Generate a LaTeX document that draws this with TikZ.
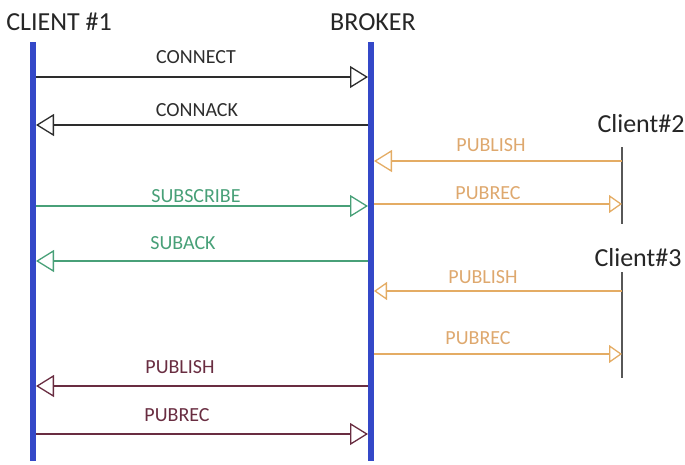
\documentclass[tikz,border=0pt]{standalone}
\usepackage{fontspec}
\setmainfont{Carlito}
\usetikzlibrary{arrows.meta}
\definecolor{lifeblue}{RGB}{52,72,200}
\definecolor{msgblack}{RGB}{45,45,45}
\definecolor{msgorange}{RGB}{228,172,100}
\definecolor{txtorange}{RGB}{222,168,110}
\definecolor{msggreen}{RGB}{72,160,120}
\definecolor{msgmaroon}{RGB}{105,45,65}
\tikzset{
  lifeline/.style={draw=lifeblue, line width=6.5pt},
  thinline/.style={draw=msgblack!80, line width=1.3pt},
  header/.style={font=\fontsize{26}{28}\selectfont, text=black!85, inner sep=0pt},
  msglabel/.style={font=\fontsize{20}{22}\selectfont, inner sep=0pt},
  bigmsg/.style={line width=1.3pt, -{Triangle[open, length=18pt, width=22pt, line width=1.3pt]}},
  smallmsg/.style={line width=1.3pt, -{Triangle[open, length=13pt, width=18pt, line width=1.3pt]}},
}
\begin{document}
\begin{tikzpicture}[x=1pt, y=-1pt]
\useasboundingbox (0,0) rectangle (685,464);
% headers
\node[header] (h1) at (59,22) {CLIENT \#1};
\node[header] (hb) at (373,22) {BROKER};
\node[header] (h2) at (641,124) {Client\#2};
\node[header] (h3) at (638,258) {Client\#3};
% lifelines
\coordinate (c1top) at (33,42); \coordinate (c1bot) at (33,461);
\coordinate (brtop) at (371,42); \coordinate (brbot) at (371,461);
\coordinate (c2top) at (622,147); \coordinate (c2bot) at (622,224);
\coordinate (c3top) at (622,272); \coordinate (c3bot) at (622,378);
\draw[lifeline] (c1top) -- (c1bot);
\draw[lifeline] (brtop) -- (brbot);
\draw[thinline] (c2top) -- (c2bot);
\draw[thinline] (c3top) -- (c3bot);
% message end points
\coordinate (a1) at (36,77);  \coordinate (b1) at (368,77);
\coordinate (a2) at (368,125); \coordinate (b2) at (36,125);
\coordinate (a3) at (622,161); \coordinate (b3) at (374,161);
\coordinate (a4) at (36,206); \coordinate (b4) at (368,206);
\coordinate (a5) at (374,204); \coordinate (b5) at (622,204);
\coordinate (a6) at (368,261); \coordinate (b6) at (36,261);
\coordinate (a7) at (622,291); \coordinate (b7) at (374,291);
\coordinate (a8) at (374,354); \coordinate (b8) at (622,354);
\coordinate (a9) at (368,386); \coordinate (b9) at (36,386);
\coordinate (a10) at (36,434); \coordinate (b10) at (368,434);
% messages
\draw[bigmsg, msgblack] (a1) -- (b1);
\node[msglabel, text=msgblack] (l1) at (196,57) {CONNECT};
\draw[bigmsg, msgblack] (a2) -- (b2);
\node[msglabel, text=msgblack] (l2) at (197,110) {CONNACK};
\draw[bigmsg, msgorange] (a3) -- (b3);
\node[msglabel, text=txtorange] (l3) at (491,145) {PUBLISH};
\draw[bigmsg, msggreen] (a4) -- (b4);
\node[msglabel, text=msggreen] (l4) at (196,196) {SUBSCRIBE};
\draw[smallmsg, msgorange] (a5) -- (b5);
\node[msglabel, text=txtorange] (l5) at (488,193) {PUBREC};
\draw[bigmsg, msggreen] (a6) -- (b6);
\node[msglabel, text=msggreen] (l6) at (183,243) {SUBACK};
\draw[smallmsg, msgorange] (a7) -- (b7);
\node[msglabel, text=txtorange] (l7) at (483,277) {PUBLISH};
\draw[smallmsg, msgorange] (a8) -- (b8);
\node[msglabel, text=txtorange] (l8) at (478,338) {PUBREC};
\draw[bigmsg, msgmaroon] (a9) -- (b9);
\node[msglabel, text=msgmaroon] (l9) at (180,367) {PUBLISH};
\draw[bigmsg, msgmaroon] (a10) -- (b10);
\node[msglabel, text=msgmaroon] (l10) at (177,415) {PUBREC};
\end{tikzpicture}
\end{document}
